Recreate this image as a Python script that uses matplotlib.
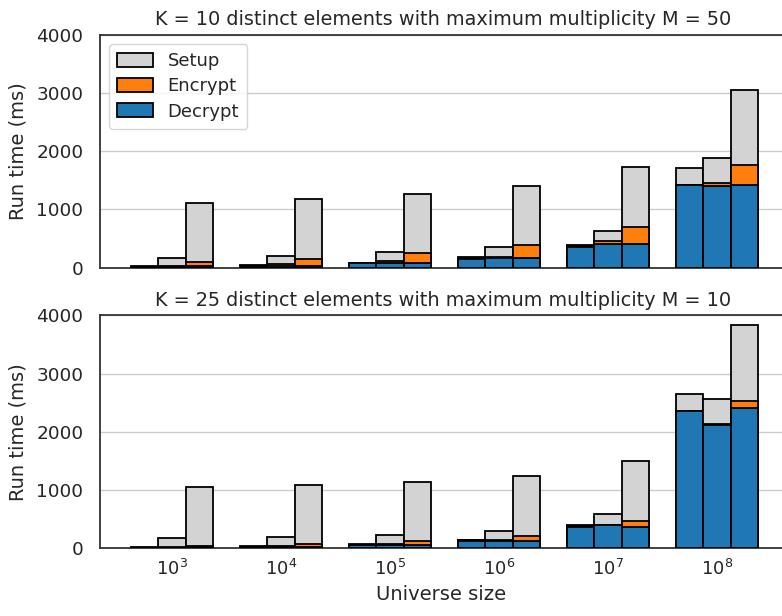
import numpy as np
import matplotlib.pyplot as plt

exponents = [3, 4, 5, 6, 7, 8]
labels = ["Setup", "Encrypt", "Decrypt"]
titles = ["K = 10 distinct elements with maximum multiplicity M = 50",
          "K = 25 distinct elements with maximum multiplicity M = 10"]

# per panel: rows = universe size, columns = the three bars in a group
# top panel (K = 10, M = 50)
decrypt_top = [[5, 10, 20], [15, 25, 30], [70, 75, 75],
               [155, 160, 160], [360, 412, 412], [1418, 1401, 1413]]
encrypt_top = [[5, 10, 83], [8, 33, 125], [5, 40, 183],
               [7, 30, 228], [10, 40, 285], [7, 59, 355]]
setup_top = [[10, 152, 1013], [18, 148, 1020], [11, 155, 1012],
             [20, 170, 1012], [25, 176, 1030], [280, 429, 1288]]

# bottom panel (K = 25, M = 10)
decrypt_bot = [[5, 8, 15], [10, 15, 25], [50, 55, 55],
               [125, 125, 126], [367, 391, 362], [2350, 2115, 2408]]
encrypt_bot = [[3, 7, 25], [8, 13, 45], [5, 7, 60],
               [5, 10, 81], [8, 4, 103], [5, 10, 126]]
setup_bot = [[7, 152, 1010], [17, 162, 1022], [7, 156, 1028],
             [8, 158, 1034], [27, 186, 1029], [288, 444, 1294]]

colors = {"Setup": "lightgray", "Encrypt": "#ff7f0e", "Decrypt": "#1f77b4"}
text_col = "#262626"

plt.rcParams["font.family"] = "DejaVu Sans"
plt.rcParams["text.color"] = text_col
plt.rcParams["axes.labelcolor"] = text_col
plt.rcParams["xtick.color"] = text_col
plt.rcParams["ytick.color"] = text_col

fig, axes = plt.subplots(2, 1, figsize=(7.82, 6.16), dpi=100, sharex=True)
fig.subplots_adjust(left=100 / 782, right=1.0, top=1 - 35 / 616,
                    bottom=1 - 548 / 616, hspace=0.206)

width = 0.25
x = np.arange(len(exponents))

panels = [(decrypt_top, encrypt_top, setup_top),
          (decrypt_bot, encrypt_bot, setup_bot)]

for ax, title, (dec, enc, setp) in zip(axes, titles, panels):
    dec = np.array(dec, dtype=float)
    enc = np.array(enc, dtype=float)
    setp = np.array(setp, dtype=float)
    for j in range(3):
        pos = x + (j - 1) * width
        kw = dict(width=width, edgecolor="black", linewidth=1.3, zorder=3)
        ax.bar(pos, dec[:, j] + enc[:, j] + setp[:, j], color=colors["Setup"],
               label="Setup" if j == 0 else None, **kw)
        ax.bar(pos, dec[:, j] + enc[:, j], color=colors["Encrypt"],
               label="Encrypt" if j == 0 else None, **kw)
        ax.bar(pos, dec[:, j], color=colors["Decrypt"],
               label="Decrypt" if j == 0 else None, **kw)

    ax.set_ylim(0, 4000)
    ax.set_yticks([0, 1000, 2000, 3000, 4000])
    ax.set_xlim(-0.66, 5.596)
    ax.set_xticks(x)
    ax.set_xticklabels([f"$10^{{{e}}}$" for e in exponents])
    ax.tick_params(axis="x", labelsize=13, length=0, pad=8)
    ax.tick_params(axis="y", labelsize=13.3, length=0, pad=12)
    ax.yaxis.grid(True, color="#cccccc", linewidth=1, zorder=0)
    ax.set_axisbelow(True)
    for s in ax.spines.values():
        s.set_color("#333333")
        s.set_linewidth(1.3)
    ax.spines["right"].set_visible(False)
    ax.set_ylabel("Run time (ms)", fontsize=14, labelpad=6)
    ax.set_title(title, fontsize=13.9, pad=7, x=(443 - 100) / 682)

axes[0].tick_params(axis="x", labelbottom=False)
axes[0].legend(loc="upper left", fontsize=13, frameon=True, edgecolor="#cccccc",
               handlelength=2.0, handleheight=0.8, borderpad=0.45,
               labelspacing=0.4)
axes[1].set_xlabel("Universe size", fontsize=14, labelpad=4)

plt.savefig("out.png", dpi=100)
